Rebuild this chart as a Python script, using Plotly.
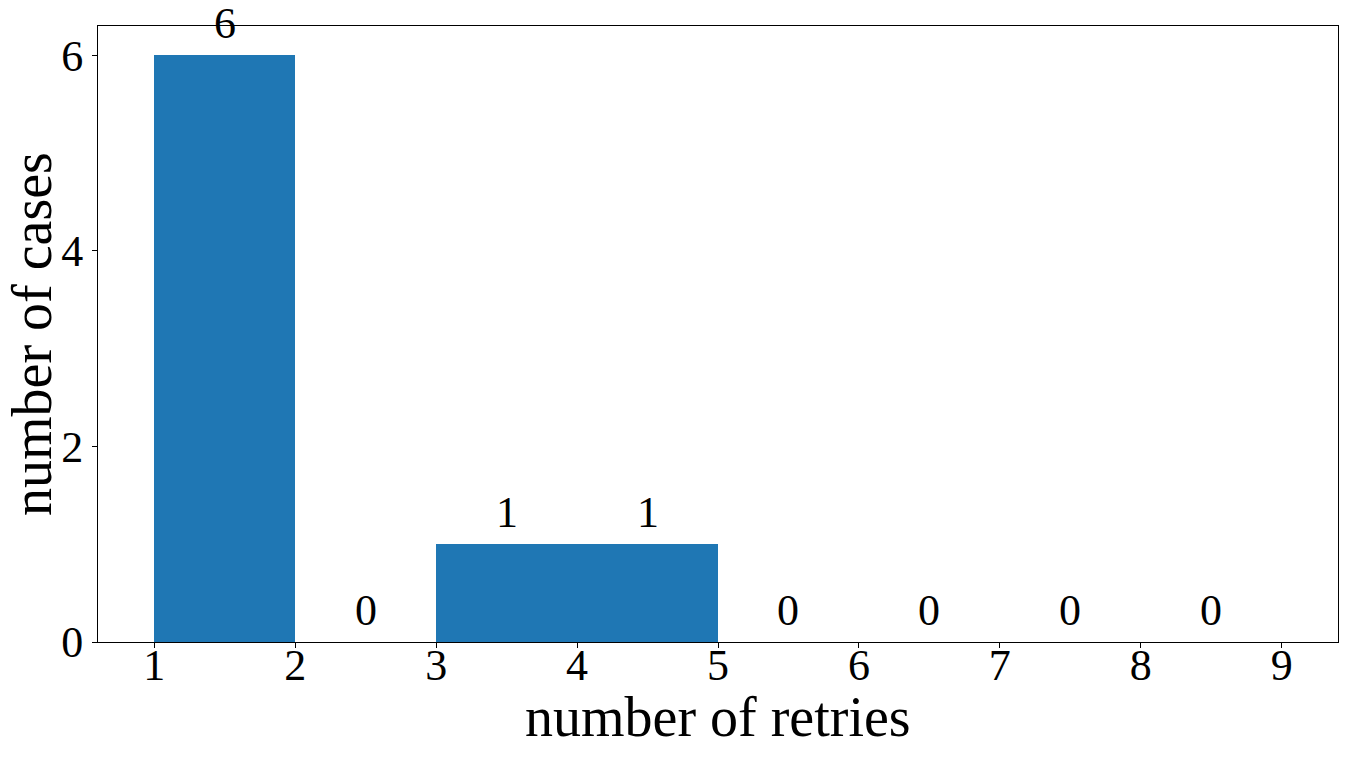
import plotly.graph_objects as go

bin_edges = [1, 2, 3, 4, 5, 6, 7, 8, 9]
counts = [6, 0, 1, 1, 0, 0, 0, 0]
x_ticks = [1, 2, 3, 4, 5, 6, 7, 8, 9]
y_ticks = [0, 2, 4, 6]
x_title = "number of retries"
y_title = "number of cases"

centers = [(a + b) / 2 for a, b in zip(bin_edges[:-1], bin_edges[1:])]
widths = [b - a for a, b in zip(bin_edges[:-1], bin_edges[1:])]

FONT = "'Times New Roman', 'Liberation Serif', serif"

fig = go.Figure()
fig.add_trace(go.Bar(x=centers, y=counts, width=widths,
                     marker=dict(color="#1f77b4", line=dict(width=0)),
                     hoverinfo="x+y"))

for c, v in zip(centers, counts):
    fig.add_annotation(x=c, y=v, text=str(v), showarrow=False,
                       xanchor="center", yanchor="bottom", yshift=5,
                       font=dict(family=FONT, size=44, color="black"))

# axis titles
fig.add_annotation(x=0.5, y=0, xref="paper", yref="paper", text=x_title, showarrow=False,
                   xanchor="center", yanchor="bottom", yshift=-108,
                   font=dict(family=FONT, size=56, color="black"))
fig.add_annotation(x=0, y=0.5, xref="paper", yref="paper", text=y_title, showarrow=False,
                   textangle=-90, xanchor="right", yanchor="middle", xshift=-33,
                   font=dict(family=FONT, size=56, color="black"))

axis_common = dict(showgrid=False, zeroline=False, showline=True, linecolor="black",
                   linewidth=1, mirror=True, ticks="outside", ticklen=5, tickwidth=1,
                   tickcolor="black", automargin=False,
                   tickfont=dict(family=FONT, size=44, color="black"))

fig.update_xaxes(range=[0.6, 9.4], tickvals=x_ticks, ticktext=[str(t) for t in x_ticks],
                 ticklabelstandoff=-21, **axis_common)
fig.update_yaxes(range=[0, 6.3], tickvals=y_ticks, ticktext=[str(t) for t in y_ticks],
                 **axis_common)

fig.update_layout(width=1348, height=757, plot_bgcolor="white", paper_bgcolor="white",
                  margin=dict(l=98, r=10, t=26, b=115), showlegend=False, bargap=0,
                  font=dict(family=FONT, color="black"))

fig.write_html("out.html", config={"displayModeBar": False},
               post_script="document.body.style.margin='0px';document.body.style.overflow='hidden';")
